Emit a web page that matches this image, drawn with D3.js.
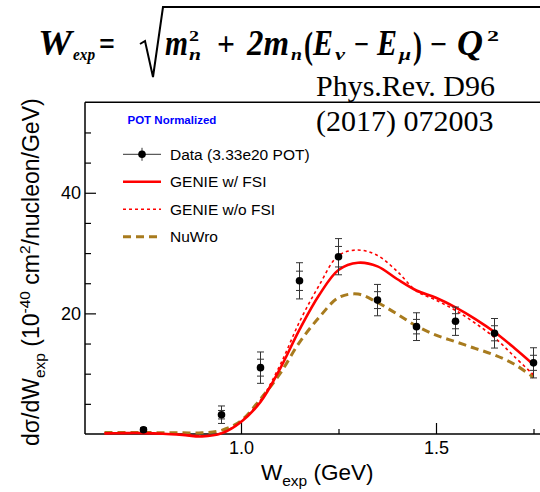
<!DOCTYPE html>
<html>
<head>
<meta charset="utf-8">
<script src="https://cdn.jsdelivr.net/npm/d3@7"></script>
<style>
  html, body { margin: 0; padding: 0; background: #fff; }
  svg { display: block; }
  text.sans { font-family: "Liberation Sans", Arial, Helvetica, sans-serif; }
  text.serif { font-family: "Liberation Serif", "Times New Roman", serif; }
</style>
</head>
<body>
<svg id="chart" width="540" height="492"></svg>
<script>
// Measured differential cross section, bin centres (GeV) and values (1e-40 cm^2/nucleon/GeV)
const dataW     = [0.75, 0.95, 1.05, 1.15, 1.25, 1.35, 1.45, 1.55, 1.65, 1.75];
const dataXsec  = [0.7, 3.2, 11.0, 25.4, 29.4, 22.2, 17.8, 18.7, 16.7, 11.8];
const dataStat  = [0.2, 0.7, 1.4, 1.6, 1.7, 1.4, 1.2, 1.25, 1.25, 1.25];
const dataTotal = [0.35, 1.45, 2.6, 3.0, 3.0, 2.6, 2.3, 2.35, 2.45, 2.5];

// Generator predictions sampled every 0.05 GeV
const modelW      = [0.65, 0.70, 0.75, 0.80, 0.85, 0.90, 0.95, 1.00, 1.05, 1.10, 1.15, 1.20,
                     1.25, 1.30, 1.35, 1.40, 1.45, 1.50, 1.55, 1.60, 1.65, 1.70, 1.75];
const genieFSI    = [0.1, 0.15, 0.15, 0.05, -0.15, -0.4, 0.1, 2.0, 5.3, 10.8, 17.3, 23.0,
                     27.2, 28.4, 27.8, 25.7, 23.8, 22.6, 21.0, 19.1, 16.9, 14.3, 11.5];
const genieNoFSI  = [0.1, 0.15, 0.15, 0.05, -0.1, -0.3, 0.2, 2.1, 5.6, 11.4, 18.6, 24.6,
                     29.6, 30.5, 29.6, 27.0, 23.7, 22.2, 20.5, 18.4, 16.0, 12.9, 9.8];
const nuwro       = [0.25, 0.25, 0.25, 0.2, 0.2, 0.2, 0.6, 2.2, 5.8, 10.0, 15.2, 19.3,
                     22.6, 23.2, 21.8, 19.9, 17.9, 16.4, 15.3, 14.2, 13.1, 11.6, 9.4];

// Axis ticks
const xMajorTicks = [1.0, 1.5];
const xMinorTicks = [0.75, 1.25, 1.75];
const yMajorTicks = [20, 40];
const yMinorTicks = [5, 10, 15, 25, 30, 35, 45, 50];

const legendLabels = ["Data (3.33e20 POT)", "GENIE w/ FSI", "GENIE w/o FSI", "NuWro"];

const svg = d3.select("#chart");

const x = d3.scaleLinear().domain([0.6, 1.8]).range([85, 553]);
const y = d3.scaleLinear().domain([0, 55]).range([434, 102.3]);

const SERIF = '"Liberation Serif", "Times New Roman", serif';
const SANS = '"Liberation Sans", Arial, Helvetica, sans-serif';

// ---- Formula header ----
const fg = svg.append("g").attr("fill", "#000");
const pieces = [
  // [text, x, baseline, size, width, italic]
  ["W", 38, 55, 35, 34, true],
  ["exp", 73, 60, 17, 22, true],
  ["=", 99, 55, 33, 16, false],
  ["m", 165, 55, 35, 23, true],
  ["2", 189, 41, 15, 10, false],
  ["n", 189, 60, 17, 12, true],
  ["+", 217, 55, 33, 18, false],
  ["2m", 247, 55, 35, 42, true],
  ["n", 291, 60, 17, 11, true],
  ["(", 304, 58, 38, 9, false],
  ["E", 313, 55, 35, 20, true],
  ["\u03bd", 335, 60, 17, 10, true],
  ["\u2212", 354, 55, 33, 15, false],
  ["E", 377, 55, 35, 20, true],
  ["\u03bc", 399, 60, 17, 12, true],
  [")", 413, 58, 38, 9, false],
  ["\u2212", 430, 55, 33, 17, false],
  ["Q", 457, 55, 35, 26, true],
  ["2", 487, 41, 15, 12, false]
];
pieces.forEach(p => {
  fg.append("text").attr("class", "serif")
    .attr("x", p[1]).attr("y", p[2])
    .attr("font-size", p[3])
    .attr("textLength", p[4]).attr("lengthAdjust", "spacingAndGlyphs")
    .style("font-family", SERIF)
    .style("font-weight", "bold")
    .style("font-style", p[5] ? "italic" : "normal")
    .text(p[0]);
});
// radical sign with overbar
svg.append("path")
  .attr("d", "M140,44 L145,41 L153,77 L163,7 L540,7")
  .attr("fill", "none").attr("stroke", "#000").attr("stroke-width", 2)
  .attr("stroke-linejoin", "miter");

// ---- Reference text ----
const ref = svg.append("g").attr("fill", "#000");
ref.append("text").attr("class", "serif").style("font-family", SERIF).attr("font-size", 30)
  .attr("x", 316).attr("y", 96).text("Phys.Rev. D96");
ref.append("text").attr("class", "serif").style("font-family", SERIF).attr("font-size", 30)
  .attr("x", 316).attr("y", 131).text("(2017) 072003");

// ---- Frame / axes ----
svg.append("line").attr("x1", x(0.6)).attr("x2", 540).attr("y1", y(55)).attr("y2", y(55))
  .attr("stroke", "#000").attr("stroke-width", 1.5);

const yAxis = svg.append("g").attr("transform", `translate(${x(0.6)},0)`)
  .call(d3.axisLeft(y).tickValues(yMajorTicks).tickSize(-11).tickPadding(4).tickFormat(d3.format("d")));
const yMinor = svg.append("g").attr("transform", `translate(${x(0.6)},0)`)
  .call(d3.axisLeft(y).tickValues(yMinorTicks).tickSize(-6).tickFormat(""));
const xAxis = svg.append("g").attr("transform", `translate(0,${y(0)})`)
  .call(d3.axisBottom(x).tickValues(xMajorTicks).tickSize(-11).tickPadding(7).tickFormat(d3.format(".1f")));
const xMinor = svg.append("g").attr("transform", `translate(0,${y(0)})`)
  .call(d3.axisBottom(x).tickValues(xMinorTicks).tickSize(-5).tickFormat(""));
[yAxis, yMinor, xAxis, xMinor].forEach(g => {
  g.select(".domain").attr("stroke-width", 1.5);
  g.selectAll(".tick line").attr("stroke-width", 1.2);
  g.selectAll("text").attr("class", "sans").attr("font-size", 18).attr("fill", "#000")
    .style("font-family", SANS);
});
yMinor.select(".domain").remove();
xMinor.select(".domain").remove();
xAxis.select(".domain").attr("d", `M${x(0.6)},0H540`);
yAxis.select(".domain").attr("d", `M0,${y(55)}V${y(0)}`);

// Axis titles
const xt = svg.append("text").attr("class", "sans").attr("x", 261).attr("y", 480)
  .attr("font-size", 22.5).attr("fill", "#000");
xt.append("tspan").text("W");
xt.append("tspan").attr("dy", 6).attr("font-size", 15.5).text("exp");
xt.append("tspan").attr("dy", -6).text(" (GeV)");

const yt = svg.append("text").attr("class", "sans").attr("transform", "translate(39,446) rotate(-90)")
  .attr("font-size", 23).attr("fill", "#000");
yt.append("tspan").text("d\u03c3/dW");
yt.append("tspan").attr("dy", 6).attr("font-size", 15.5).text("exp");
yt.append("tspan").attr("dy", -6).text(" (10");
yt.append("tspan").attr("dy", -9).attr("font-size", 15.5).text("-40");
yt.append("tspan").attr("dy", 9).text(" cm");
yt.append("tspan").attr("dy", -9).attr("font-size", 15.5).text("2");
yt.append("tspan").attr("dy", 9).text("/nucleon/GeV)");

// ---- Model curves ----
const line = d3.line().x(d => x(d[0])).y(d => y(d[1])).curve(d3.curveCatmullRom.alpha(0.5));
const series = [
  { vals: nuwro,      color: "#a87b1e", width: 3,   dash: "8,5" },
  { vals: genieNoFSI, color: "#ff0000", width: 1.6, dash: "3,3" },
  { vals: genieFSI,   color: "#ff0000", width: 2.6, dash: null }
];
series.forEach(s => {
  svg.append("path")
    .datum(modelW.map((w, i) => [w, s.vals[i]]))
    .attr("d", line)
    .attr("fill", "none")
    .attr("stroke", s.color)
    .attr("stroke-width", s.width)
    .attr("stroke-dasharray", s.dash);
});

// ---- Data points with stat and total error bars ----
const pts = svg.append("g");
const cap = 3.5;
dataW.forEach((w, i) => {
  const cx = x(w), v = dataXsec[i];
  const g = pts.append("g").attr("stroke", "#333").attr("stroke-width", 1);
  g.append("line").attr("x1", cx).attr("x2", cx)
    .attr("y1", y(v + dataTotal[i])).attr("y2", y(v - dataTotal[i]));
  [v + dataTotal[i], v - dataTotal[i], v + dataStat[i], v - dataStat[i]].forEach(e => {
    g.append("line").attr("x1", cx - cap).attr("x2", cx + cap).attr("y1", y(e)).attr("y2", y(e));
  });
  pts.append("circle").attr("cx", cx).attr("cy", y(v)).attr("r", 3.8).attr("fill", "#000");
});

// ---- Legend ----
svg.append("text").attr("class", "sans").attr("x", 127.5).attr("y", 124).attr("font-size", 11.5)
  .attr("font-weight", "bold").attr("fill", "#0000ff").text("POT Normalized");

const legY = [154.3, 181.7, 209.3, 236.7];
const lx1 = 123, lx2 = 161, lxm = 142;
const leg = svg.append("g");
leg.append("line").attr("x1", lx1).attr("x2", lx2).attr("y1", legY[0]).attr("y2", legY[0])
  .attr("stroke", "#333").attr("stroke-width", 1);
leg.append("line").attr("x1", lxm).attr("x2", lxm).attr("y1", legY[0] - 6.5).attr("y2", legY[0] + 6.5)
  .attr("stroke", "#333").attr("stroke-width", 1);
leg.append("circle").attr("cx", lxm).attr("cy", legY[0]).attr("r", 3.8).attr("fill", "#000");
[series[2], series[1], series[0]].forEach((s, k) => {
  leg.append("line").attr("x1", lx1).attr("x2", lx2)
    .attr("y1", legY[k + 1]).attr("y2", legY[k + 1])
    .attr("stroke", s.color).attr("stroke-width", s.width).attr("stroke-dasharray", s.dash);
});
legendLabels.forEach((t, k) => {
  leg.append("text").attr("class", "sans").attr("x", 170).attr("y", legY[k] + 5.6)
    .attr("font-size", 15.5).attr("fill", "#000").text(t);
});
</script>
</body>
</html>
